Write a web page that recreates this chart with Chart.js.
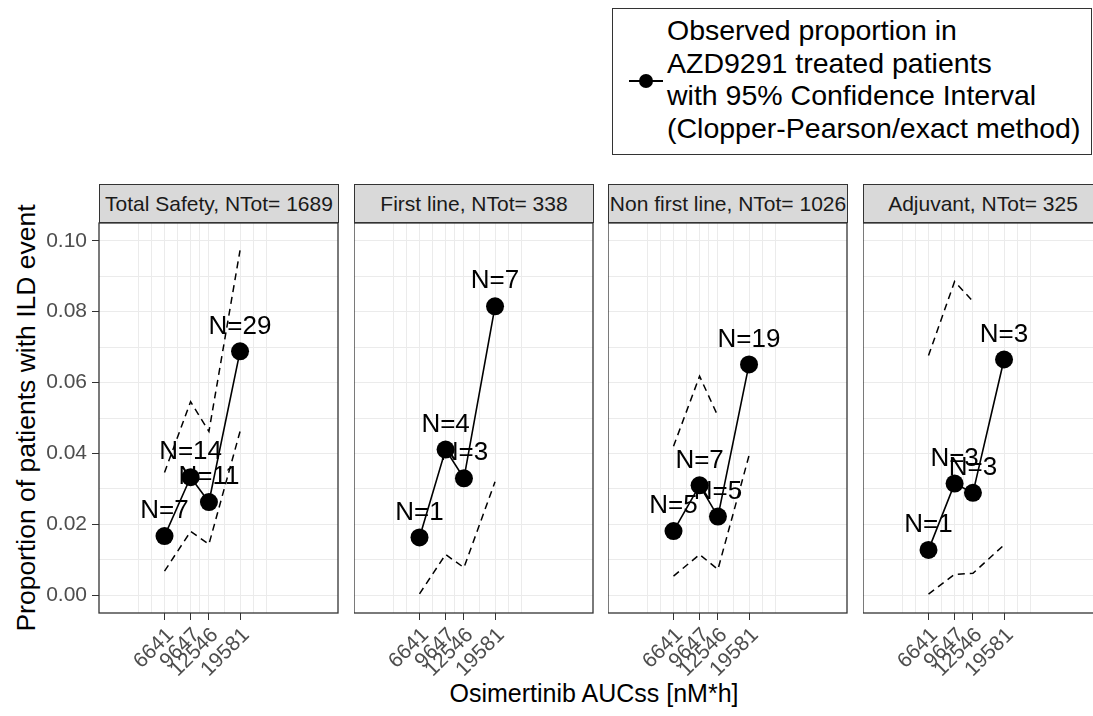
<!DOCTYPE html>
<html>
<head>
<meta charset="utf-8">
<title>ILD event proportion by Osimertinib AUCss</title>
<script src="https://cdn.jsdelivr.net/npm/chart.js"></script>
<style>
  body { margin: 0; background: #fff; overflow: hidden; font-family: "Liberation Sans", Arial, sans-serif; }
  #fig { position: relative; width: 1093px; height: 716px; overflow: hidden; }
  canvas { position: absolute; }
  .strip { position: absolute; top: 184px; height: 39px; width: 240px; box-sizing: border-box;
           background: #d9d9d9; border: 1px solid #333; color: #1a1a1a; font-size: 21px;
           text-align: center; line-height: 37px; white-space: nowrap; }
  #legend { position: absolute; left: 612px; top: 8px; width: 480px; height: 147px; box-sizing: border-box;
            border: 1px solid #333; background: #fff; }
  #legend .txt { position: absolute; left: 54px; top: 5px; font-size: 28.5px; line-height: 32.7px; color: #000; white-space: nowrap; }
  #legend .keyline { position: absolute; left: 16px; top: 71px; width: 34px; height: 2px; background: #000; }
  #legend .keydot { position: absolute; left: 26px; top: 65px; width: 14px; height: 14px; border-radius: 50%; background: #000; }
  #xtitle { position: absolute; left: 99px; width: 990px; top: 678px; text-align: center; font-size: 25px; line-height: 30px; color: #000; }
  #ytitle { position: absolute; left: -224px; top: 403px; width: 500px; height: 30px; text-align: center;
            font-size: 26.5px; line-height: 30px; color: #000; transform: rotate(-90deg); white-space: nowrap; }
</style>
</head>
<body>
<div id="fig">
  <div id="legend">
    <div class="keyline"></div><div class="keydot"></div>
    <div class="txt">Observed proportion in<br>AZD9291 treated patients<br>with 95% Confidence Interval<br>(Clopper-Pearson/exact method)</div>
  </div>
  <div id="xtitle">Osimertinib AUCss [nM*h]</div>
  <div id="ytitle">Proportion of patients with ILD event</div>
</div>
<script>
const auc = [6641, 9647, 12546, 19581];
const yTicks = [0, 0.02, 0.04, 0.06, 0.08, 0.10];
const panelTitles = ['Total Safety, NTot= 1689', 'First line, NTot= 338', 'Non first line, NTot= 1026', 'Adjuvant, NTot= 325'];

const totalProp = [0.0167, 0.0333, 0.0263, 0.0688];
const totalLower = [0.0068, 0.0180, 0.0144, 0.0462];
const totalUpper = [0.0346, 0.0546, 0.0462, 0.0973];
const totalN = [7, 14, 11, 29];

const firstProp = [0.0163, 0.0411, 0.0330, 0.0815];
const firstLower = [0.0004, 0.0115, 0.0078, 0.0320];
const firstUpper = [null, null, null, null]; // above 0.10, dropped
const firstN = [1, 4, 3, 7];

const nonFirstProp = [0.0181, 0.0310, 0.0222, 0.0651];
const nonFirstLower = [0.0054, 0.0115, 0.0073, 0.0394];
const nonFirstUpper = [0.0420, 0.0618, 0.0505, null];
const nonFirstN = [5, 7, 5, 19];

const adjProp = [0.0128, 0.0315, 0.0289, 0.0665];
const adjLower = [0.0003, 0.0059, 0.0062, 0.0142];
const adjUpper = [0.0676, 0.0885, 0.0829, null];
const adjN = [1, 3, 3, 3];

const panels = [
  { prop: totalProp, lower: totalLower, upper: totalUpper, n: totalN },
  { prop: firstProp, lower: firstLower, upper: firstUpper, n: firstN },
  { prop: nonFirstProp, lower: nonFirstLower, upper: nonFirstUpper, n: nonFirstN },
  { prop: adjProp, lower: adjLower, upper: adjUpper, n: adjN }
];

const FONT = '"Liberation Sans", Arial, sans-serif';
const panelLeft = [99, 354, 608, 863];
const plotTop = 223, plotW = 239, plotH = 390, xAxisH = 100;

// ggplot-style minor breaks: halfway between majors in log space, one step beyond each end
const logs = auc.map(Math.log10);
const step = logs[1] - logs[0];
const ext = [logs[0] - step, ...logs, logs[logs.length - 1] + step];
const xGrid = [];
ext.forEach((l, k) => {
  const major = k > 0 && k <= auc.length ? auc[k - 1] : Math.pow(10, l);
  xGrid.push(major);
  if (k < ext.length - 1) xGrid.push(Math.pow(10, (l + ext[k + 1]) / 2));
});
const yGrid = [];
yTicks.forEach((t, k) => {
  yGrid.push(t);
  if (k < yTicks.length - 1) yGrid.push((t + yTicks[k + 1]) / 2);
});
const isMajorX = v => auc.includes(v);
const isMajorY = v => yTicks.some(t => Math.abs(t - v) < 1e-9);

const framePlugin = {
  id: 'frame',
  afterDraw(chart) {
    const a = chart.chartArea, ctx = chart.ctx;
    ctx.save();
    ctx.strokeStyle = '#333';
    ctx.lineWidth = 1.3;
    ctx.strokeRect(a.left, a.top, a.right - a.left, a.bottom - a.top);
    ctx.restore();
  }
};

const countLabels = {
  id: 'countLabels',
  afterDatasetsDraw(chart, args, opts) {
    const meta = chart.getDatasetMeta(0);
    const ctx = chart.ctx;
    ctx.save();
    ctx.font = '26px ' + FONT;
    ctx.fillStyle = '#000';
    ctx.textAlign = 'center';
    ctx.textBaseline = 'middle';
    meta.data.forEach((pt, j) => ctx.fillText('N=' + opts.n[j], pt.x, pt.y - 25));
    ctx.restore();
  }
};

const fig = document.getElementById('fig');

panels.forEach((p, i) => {
  const strip = document.createElement('div');
  strip.className = 'strip';
  strip.style.left = panelLeft[i] + 'px';
  strip.textContent = panelTitles[i];
  fig.appendChild(strip);

  const yw = i === 0 ? 99 : 0;
  const canvas = document.createElement('canvas');
  canvas.width = yw + plotW + 2;
  canvas.height = 2 + plotH + xAxisH;
  canvas.style.left = (panelLeft[i] - yw) + 'px';
  canvas.style.top = (plotTop - 2) + 'px';
  fig.appendChild(canvas);

  const series = vals => auc.map((x, j) => ({ x: x, y: vals[j] }));
  const ciStyle = { borderColor: '#000', borderWidth: 1.5, borderDash: [7, 5], pointRadius: 0, fill: false };

  new Chart(canvas, {
    type: 'line',
    data: {
      datasets: [
        { data: series(p.prop), borderColor: '#000', borderWidth: 1.6, pointRadius: 9,
          pointBackgroundColor: '#000', pointBorderWidth: 0, fill: false },
        Object.assign({ data: series(p.lower) }, ciStyle),
        Object.assign({ data: series(p.upper) }, ciStyle)
      ]
    },
    options: {
      responsive: false,
      animation: false,
      devicePixelRatio: 1,
      events: [],
      layout: { autoPadding: false, padding: { top: 2, right: 2, left: 0, bottom: 0 } },
      plugins: {
        legend: { display: false },
        tooltip: { enabled: false },
        countLabels: { n: p.n }
      },
      scales: {
        x: {
          type: 'logarithmic',
          min: 2600,
          max: 79600,
          bounds: 'data',
          afterBuildTicks: a => { a.ticks = xGrid.map(v => ({ value: v })); },
          afterFit: a => { a.height = xAxisH; a.paddingLeft = 0; a.paddingRight = 0; },
          border: { display: false },
          grid: {
            color: '#ebebeb', lineWidth: 1, tickLength: 7,
            tickColor: c => (c.tick && isMajorX(c.tick.value)) ? '#333' : 'rgba(0,0,0,0)'
          },
          ticks: {
            autoSkip: false, minRotation: 45, maxRotation: 45, padding: 3, labelOffset: 6,
            color: '#4d4d4d', font: { size: 21, family: FONT },
            callback: v => isMajorX(v) ? String(v) : ''
          }
        },
        y: {
          min: -0.005,
          max: 0.105,
          bounds: 'data',
          afterBuildTicks: a => { a.ticks = yGrid.map(v => ({ value: v })); },
          afterFit: a => { a.width = yw; a.paddingTop = 0; a.paddingBottom = 0; },
          border: { display: false },
          grid: {
            color: '#ebebeb', lineWidth: 1, tickLength: 7, drawTicks: i === 0,
            tickColor: c => (c.tick && isMajorY(c.tick.value)) ? '#333' : 'rgba(0,0,0,0)'
          },
          ticks: {
            display: i === 0, padding: 5,
            color: '#4d4d4d', font: { size: 21, family: FONT },
            callback: v => isMajorY(v) ? v.toFixed(2) : ''
          }
        }
      }
    },
    plugins: [framePlugin, countLabels]
  });
});
</script>
</body>
</html>
